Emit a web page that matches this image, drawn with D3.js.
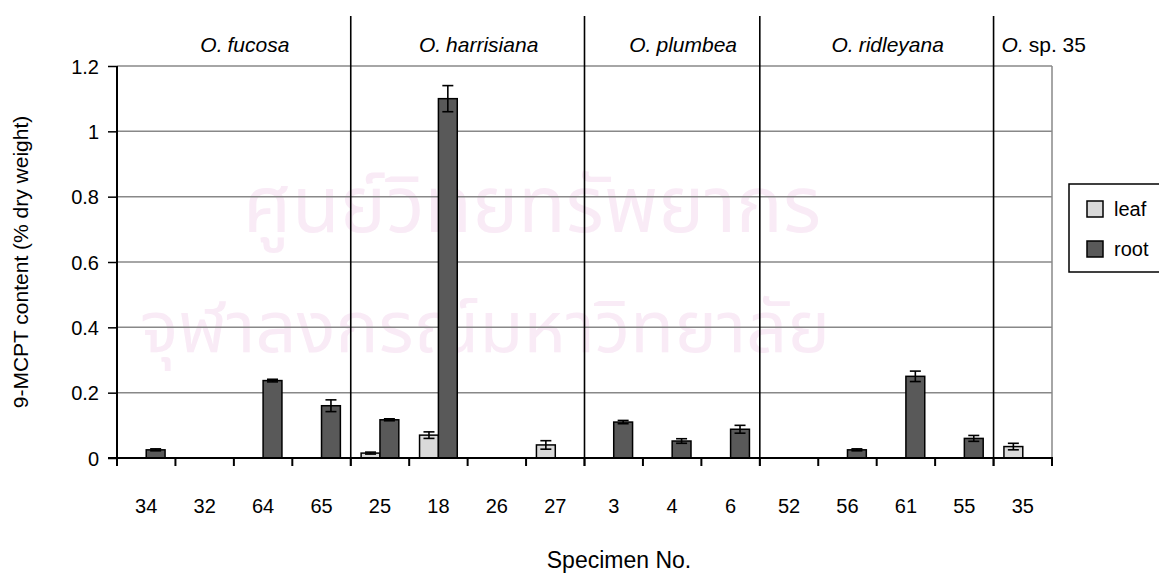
<html lang="en">
	<head>
		<title>9-MCPT content</title>
		<meta charset="UTF-8">
		<script type="text/javascript" src="https://cdn.jsdelivr.net/npm/d3@7"></script>
		<style>
			body { margin: 0; background: #fff; }
			svg { display: block; font-family: "Liberation Sans", Arial, sans-serif; }
		</style>
	</head>
	<body>
		<svg id="chart"></svg>
		<script type="text/javascript">
			// specimens, in plot order
			var specimens = ["34", "32", "64", "65", "25", "18", "26", "27", "3", "4", "6", "52", "56", "61", "55", "35"];
			var series = ["leaf", "root"];
			// mean content (% dry weight), null = not detected
			var leafValues = [null, null, null, null, 0.015, 0.07, null, 0.04, null, null, null, null, null, null, null, 0.035];
			var rootValues = [0.025, null, 0.237, 0.16, 0.117, 1.1, null, null, 0.11, 0.052, 0.088, null, 0.025, 0.25, 0.06, null];
			var leafErr = [0, 0, 0, 0, 0.003, 0.01, 0, 0.013, 0, 0, 0, 0, 0, 0, 0, 0.01];
			var rootErr = [0.003, 0, 0.004, 0.018, 0.003, 0.04, 0, 0, 0.005, 0.007, 0.012, 0, 0.003, 0.016, 0.009, 0];
			// species groups: name and how many specimens each covers
			var groupNames = ["fucosa", "harrisiana", "plumbea", "ridleyana", "sp. 35"];
			var groupSizes = [4, 4, 3, 4, 1];
			var yTicks = [0, 0.2, 0.4, 0.6, 0.8, 1, 1.2];

			var width = 1159;
			var height = 580;
			var margin = { top: 66, left: 117, right: 107, bottom: 122 };
			var chartW = width - margin.left - margin.right;
			var chartH = height - margin.top - margin.bottom;

			var svg = d3.select("#chart")
						.attr("width", width)
						.attr("height", height);

			/* faint watermark behind the chart */
			var wm = svg.append("g")
						.attr("fill", "#f9ebf6")
						.attr("font-family", "'Noto Sans Thai', Loma, Garuda, 'Noto Sans', sans-serif")
						.attr("text-anchor", "middle");
			wm.append("text").attr("x", 532).attr("y", 232).attr("font-size", 78).text("ศูนย์วิทยทรัพยากร");
			wm.append("text").attr("x", 485).attr("y", 352).attr("font-size", 72).text("จุฬาลงกรณ์มหาวิทยาลัย");

			var xScale = d3.scaleBand()
						   .domain(specimens)
						   .range([0, chartW]);
			var inner = d3.scaleBand()
						  .domain(series)
						  .range([0, xScale.bandwidth() * 2 / 3.1])
						  .paddingInner(0);
			var innerOffset = (xScale.bandwidth() - inner.range()[1]) / 2;
			var yScale = d3.scaleLinear()
						   .domain([0, 1.2])
						   .range([chartH, 0]);
			var colors = d3.scaleOrdinal()
						   .domain(series)
						   .range(["#d9d9d9", "#595959"]);

			var plot = svg.append("g")
						  .attr("transform", "translate(" + margin.left + "," + margin.top + ")");

			/* gridlines */
			plot.append("g")
				.selectAll("line")
				.data(yTicks.filter(function(d) { return d > 0; }))
				.enter()
				.append("line")
				.attr("x1", 0)
				.attr("x2", chartW)
				.attr("y1", function(d) { return yScale(d); })
				.attr("y2", function(d) { return yScale(d); })
				.attr("stroke", "#888")
				.attr("stroke-width", 1.5);
			plot.append("line")
				.attr("x1", chartW).attr("x2", chartW)
				.attr("y1", 0).attr("y2", chartH)
				.attr("stroke", "#888")
				.attr("stroke-width", 1.5);

			/* bars */
			var rows = [];
			specimens.forEach(function(s, i) {
				rows.push({ spec: s, key: "leaf", value: leafValues[i], err: leafErr[i] });
				rows.push({ spec: s, key: "root", value: rootValues[i], err: rootErr[i] });
			});
			rows = rows.filter(function(d) { return d.value != null; });

			var barX = function(d) {
				return xScale(d.spec) + innerOffset + inner(d.key);
			};

			plot.append("g")
				.selectAll("rect")
				.data(rows)
				.enter()
				.append("rect")
				.attr("x", barX)
				.attr("y", function(d) { return yScale(d.value); })
				.attr("width", inner.bandwidth())
				.attr("height", function(d) { return chartH - yScale(d.value); })
				.attr("fill", function(d) { return colors(d.key); })
				.attr("stroke", "#000")
				.attr("stroke-width", 1.5);

			/* error bars */
			var eb = plot.append("g")
						 .attr("stroke", "#000")
						 .attr("stroke-width", 1.6)
						 .selectAll("g")
						 .data(rows.filter(function(d) { return d.err > 0; }))
						 .enter()
						 .append("g");
			var cx = function(d) { return barX(d) + inner.bandwidth() / 2; };
			eb.append("line")
			  .attr("x1", cx).attr("x2", cx)
			  .attr("y1", function(d) { return yScale(d.value + d.err); })
			  .attr("y2", function(d) { return yScale(d.value - d.err); });
			[1, -1].forEach(function(sign) {
				eb.append("line")
				  .attr("x1", function(d) { return cx(d) - 5.5; })
				  .attr("x2", function(d) { return cx(d) + 5.5; })
				  .attr("y1", function(d) { return yScale(d.value + sign * d.err); })
				  .attr("y2", function(d) { return yScale(d.value + sign * d.err); });
			});

			/* axes */
			var yAxis = d3.axisLeft(yScale)
						  .tickValues(yTicks)
						  .tickSize(9)
						  .tickPadding(9)
						  .tickFormat(function(d) { return String(d); });
			var gy = plot.append("g").call(yAxis);
			gy.attr("font-size", 20).attr("font-family", "'Liberation Sans', Arial, sans-serif");
			gy.select(".domain").remove();
			gy.append("line")
			  .attr("x1", 0).attr("x2", 0)
			  .attr("y1", 0).attr("y2", chartH + 8)
			  .attr("stroke", "#000")
			  .attr("stroke-width", 2);
			gy.selectAll(".tick line").attr("stroke-width", 1.5);
			gy.selectAll("text").attr("fill", "#000").attr("dy", "0.35em");

			var gx = plot.append("g").attr("transform", "translate(0," + chartH + ")");
			gx.append("line")
			  .attr("x1", -9).attr("x2", chartW + 1)
			  .attr("stroke", "#000")
			  .attr("stroke-width", 2);
			gx.selectAll(".xt")
			  .data(specimens.map(function(s) { return xScale(s); }).concat([chartW]))
			  .enter()
			  .append("line")
			  .attr("x1", function(d) { return d; })
			  .attr("x2", function(d) { return d; })
			  .attr("y1", 0)
			  .attr("y2", 8)
			  .attr("stroke", "#000")
			  .attr("stroke-width", 2);
			gx.selectAll(".xl")
			  .data(specimens)
			  .enter()
			  .append("text")
			  .attr("x", function(d) { return xScale(d) + xScale.bandwidth() / 2; })
			  .attr("y", 55)
			  .attr("text-anchor", "middle")
			  .attr("font-size", 20)
			  .text(function(d) { return d; });

			/* species dividers and labels */
			var start = 0;
			var groups = groupNames.map(function(n, i) {
				var g = { name: n, from: start, to: start + groupSizes[i] };
				start += groupSizes[i];
				return g;
			});
			plot.append("g")
				.selectAll("line")
				.data(groups.slice(1))
				.enter()
				.append("line")
				.attr("x1", function(d) { return xScale(specimens[d.from]); })
				.attr("x2", function(d) { return xScale(specimens[d.from]); })
				.attr("y1", -50)
				.attr("y2", chartH + 8)
				.attr("stroke", "#000")
				.attr("stroke-width", 1.6);

			var labels = plot.append("g")
							 .selectAll("text")
							 .data(groups)
							 .enter()
							 .append("text")
							 .attr("y", -14)
							 .attr("font-size", 21)
							 .attr("text-anchor", function(d, i) { return i == groups.length - 1 ? "start" : "middle"; })
							 .attr("x", function(d, i) {
								 var x0 = xScale(specimens[d.from]);
								 if (i == groups.length - 1) return x0 + 8;
								 var x1 = xScale(specimens[d.to - 1]) + xScale.bandwidth();
								 return (x0 + x1) / 2 + 11;
							 });
			labels.append("tspan").attr("font-style", "italic").text("O.");
			labels.append("tspan")
				  .attr("dx", 5)
				  .attr("font-style", function(d) { return d.name.indexOf("sp.") == 0 ? "normal" : "italic"; })
				  .text(function(d) { return d.name; });

			/* axis titles */
			svg.append("text")
			   .attr("transform", "translate(28," + (margin.top + chartH / 2) + ") rotate(-90)")
			   .attr("text-anchor", "middle")
			   .attr("font-size", 21)
			   .text("9-MCPT content (% dry weight)");
			svg.append("text")
			   .attr("x", 619)
			   .attr("y", 568)
			   .attr("text-anchor", "middle")
			   .attr("font-size", 23)
			   .text("Specimen No.");

			/* legend */
			var legend = svg.append("g").attr("transform", "translate(1069,184)");
			legend.append("rect")
				  .attr("width", 92)
				  .attr("height", 88)
				  .attr("fill", "#fff")
				  .attr("stroke", "#000")
				  .attr("stroke-width", 1.5);
			var items = legend.selectAll(".item")
							  .data(series)
							  .enter()
							  .append("g")
							  .attr("transform", function(d, i) { return "translate(18," + (17 + i * 40) + ")"; });
			items.append("rect")
				 .attr("width", 16)
				 .attr("height", 16)
				 .attr("fill", function(d) { return colors(d); })
				 .attr("stroke", "#000")
				 .attr("stroke-width", 1.5);
			items.append("text")
				 .attr("x", 27)
				 .attr("y", 15)
				 .attr("font-size", 20)
				 .text(function(d) { return d; });
		</script>
	</body>
</html>
